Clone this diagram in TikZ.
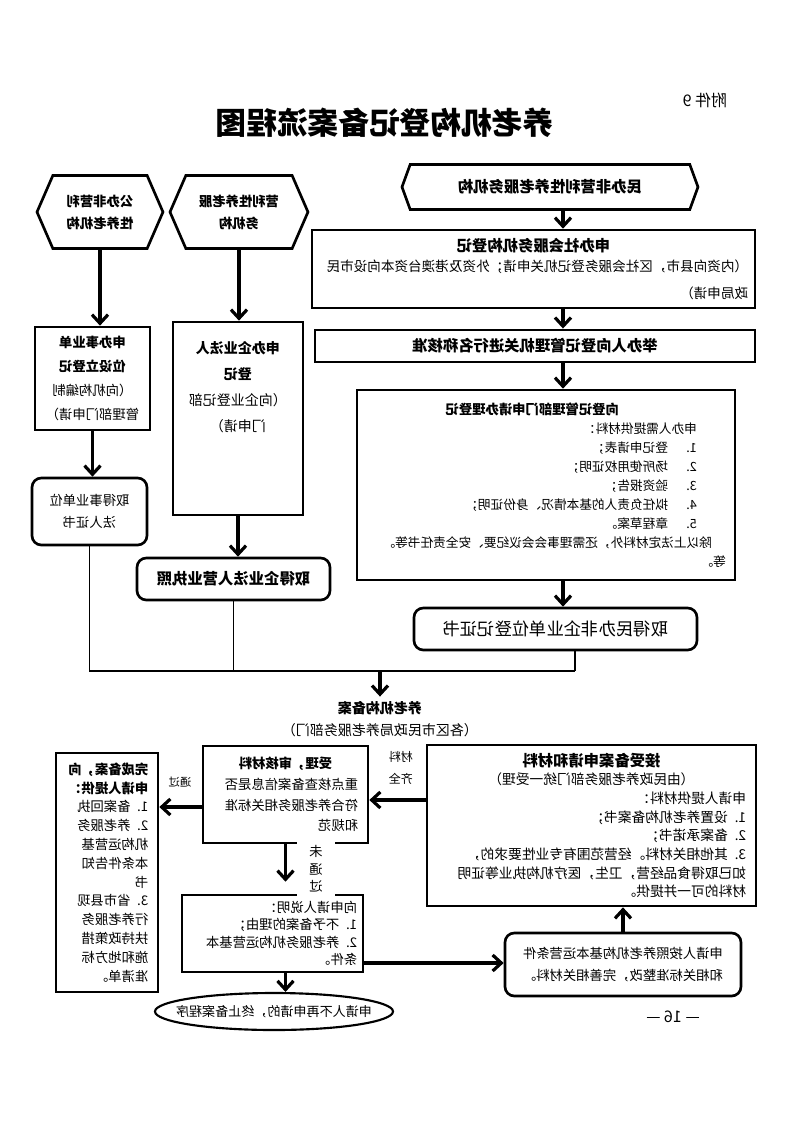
\documentclass[tikz,border=0pt]{standalone}
\usepackage{fontspec}
\setmainfont{Noto Sans CJK SC}
\usetikzlibrary{arrows.meta, shapes.geometric, shapes.symbols, positioning}

\newlength{\upx}
\setlength{\upx}{0.75pt}

\tikzset{
  box/.style={draw, line width=2pt, inner sep=3pt, align=center},
  rbox/.style={box, rounded corners=7pt},
  hexa/.style={box, signal, signal to=east and west},
  arr/.style={line width=2.4pt, -{Straight Barb[length=6.5pt,width=12pt]}},
  link/.style={line width=0.8pt},
  bar/.style={line width=2.2pt}
}

\begin{document}
\begin{tikzpicture}[x=0.75pt, y=-0.75pt, xscale=-1, every node/.style={transform shape}]

  \useasboundingbox (0,0) rectangle (793,1122);

  % title
  \node[font=\fontsize{23}{28}\selectfont\bfseries] (biaoti) at (408,123) {养老机构登记备案流程图};
  \node[font=\fontsize{12}{14}\selectfont] (fujian) at (88,100) {附件 9};

  % three kinds of institutions
  \node[hexa, minimum width=126\upx, minimum height=73\upx, signal pointer angle=133,
        font=\fontsize{10}{16.5}\selectfont\bfseries] (gongban) at (693,212) {公办非营利\\性养老机构};
  \node[hexa, minimum width=138\upx, minimum height=73\upx, signal pointer angle=133,
        font=\fontsize{10}{16.5}\selectfont\bfseries] (yingli) at (554,212) {营利性养老服\\务机构};
  \node[hexa, minimum width=296\upx, minimum height=45\upx, signal pointer angle=140,
        font=\fontsize{11.5}{14}\selectfont\bfseries] (minfei) at (243,187) {民办非营利性养老服务机构};

  % main column
  \node[box, minimum width=443\upx, minimum height=78\upx, text width=322pt, align=left,
        font=\fontsize{10.2}{20}\selectfont] (shefu) at (259.5,269)
       {\makebox[\linewidth]{\fontsize{11.5}{14}\selectfont\bfseries 申办社会服务机构登记}\\[-5pt]
        （内资向县市，区社会服务登记机关申请；外资及港澳台资本向设市民\\政局申请）};
  \node[box, line width=2.2pt, minimum width=440\upx, minimum height=32\upx,
        font=\fontsize{11.5}{14}\selectfont\bfseries] (hezhun) at (258,346) {举办人向登记管理机关进行名称核准};
  \node[box, minimum width=378\upx, minimum height=190\upx, text width=270pt, align=left,
        font=\fontsize{9.5}{14.3}\selectfont] (dengji) at (247,485)
       {\hspace*{107\upx}{\fontsize{10}{14}\selectfont\bfseries 向登记管理部门申请办理登记}\\
        \hspace*{29\upx}申办人需提供材料：\\
        \hspace*{29\upx}\makebox[29\upx][l]{1.}登记申请表；\\
        \hspace*{29\upx}\makebox[29\upx][l]{2.}场所使用权证明；\\
        \hspace*{29\upx}\makebox[29\upx][l]{3.}验资报告；\\
        \hspace*{29\upx}\makebox[29\upx][l]{4.}拟任负责人的基本情况、身份证明；\\
        \hspace*{29\upx}\makebox[29\upx][l]{5.}章程草案。\\
        \hspace*{14\upx}除以上法定材料外，还需理事会会议纪要、安全责任书等。\\
        等。};
  \node[rbox, minimum width=283\upx, minimum height=42\upx,
        font=\fontsize{13}{16}\selectfont] (minfeizheng) at (237.5,629) {取得民办非企业单位登记证书};

  % public institutions
  \node[box, minimum width=115\upx, minimum height=103\upx,
        font=\fontsize{10}{18}\selectfont] (shiye) at (700.5,378.5)
       {\textbf{申办事业单}\\\textbf{位设立登记}\\（向机构编制\\管理部门申请）};
  \node[rbox, minimum width=115\upx, minimum height=67\upx,
        font=\fontsize{10}{16}\selectfont] (shiyezheng) at (703.5,511.5) {取得事业单位\\法人证书};

  % for-profit institutions
  \node[box, minimum width=130\upx, minimum height=193\upx] (qiyebox) at (555,418.5) {};
  \node[anchor=north, align=center, font=\fontsize{10.5}{19.5}\selectfont] (qiyetxt) at (555,337)
       {\textbf{申办企业法人}\\\textbf{登记}\\（向企业登记部\\门申请）};
  \node[rbox, minimum width=193\upx, minimum height=42\upx,
        font=\fontsize{11.5}{14}\selectfont\bfseries] (qiyezhao) at (559.5,579) {取得企业法人营业执照};

  \node[align=center, font=\fontsize{10.5}{16.5}\selectfont] (beian) at (413,719)
       {\textbf{养老机构备案}\\（各区市民政局养老服务部门）};

  % filing part
  \node[box, minimum width=329\upx, minimum height=161\upx, text width=232pt, align=left,
        font=\fontsize{10.3}{14}\selectfont] (jieshou) at (201.5,825.5)
       {\makebox[\linewidth]{\fontsize{11.5}{14}\selectfont\bfseries 接受备案申请和材料}\\
        \makebox[\linewidth]{（由民政养老服务部门统一受理）}\\
        申请人提供材料：\\
        1. 设置养老机构备案书；\\
        2. 备案承诺书；\\
        3. 其他相关材料。经营范围有专业性要求的，\\
        如已取得食品经营，卫生，医疗机构执业等证明\\
        材料的可一并提供。};
  \node[box, minimum width=165\upx, minimum height=97\upx, text width=109pt, align=left,
        font=\fontsize{10}{15.4}\selectfont] (shouli) at (507.5,794.5)
       {\makebox[\linewidth]{\bfseries 受理，审核材料}\\
        重点核查备案信息是否\\符合养老服务相关标准\\和规范};
  \node[box, minimum width=102\upx, minimum height=239\upx, text width=62pt, align=left,
        font=\fontsize{10}{14.1}\selectfont] (wancheng) at (686,872.5)
       {\textbf{完成备案，向}\\\textbf{申请人提供：}\\
        1. 备案回执\\2. 养老服务\\机构运营基\\本条件告知\\书\\
        3. 省市县现\\行养老服务\\扶持政策措\\施和地方标\\准清单。};
  \node[box, minimum width=181\upx, minimum height=77\upx, text width=127pt, align=left,
        font=\fontsize{10}{13}\selectfont] (shuoming) at (520.5,933.5)
       {向申请人说明：\\1. 不予备案的理由；\\2. 养老服务机构运营基本\\条件。};
  \node[draw, ellipse, line width=1.6pt, minimum width=238\upx, minimum height=37\upx,
        label={[font=\fontsize{9.8}{12}\selectfont]center:申请人不再申请的，终止备案程序}] (zhongzhi) at (519,1011.5) {};
  \node[rbox, minimum width=236\upx, minimum height=63\upx, align=left,
        font=\fontsize{10}{16}\selectfont] (zhenggai) at (170,964.5)
       {申请人按照养老机构基本运营条件\\和相关标准整改，完善相关材料。};

  \node[font=\fontsize{12}{14}\selectfont] (yema) at (120,1017) {— 16 —};

  % arrows
  \coordinate (mid) at (230,0);
  \draw[arr] (gongban.south) -- (gongban.south |- shiye.north);
  \draw[arr] (yingli.south) -- (yingli.south |- qiyebox.north);
  \draw[arr] (minfei.south -| mid) -- (shefu.north -| mid);
  \draw[arr] (shefu.south -| mid) -- (hezhun.north -| mid);
  \draw[arr] (hezhun.south -| mid) -- (dengji.north -| mid);
  \draw[arr] (dengji.south -| mid) -- (minfeizheng.north -| mid);
  \draw[arr] (shiye.south) -- (shiye.south |- shiyezheng.north);
  \draw[arr] (qiyebox.south) -- (qiyebox.south |- qiyezhao.north);

  % gathering line
  \coordinate (huizong) at (705,671);
  \coordinate (huizongR) at (218,671);
  \draw[link] (shiyezheng.south) -- (shiyezheng.south |- huizong);
  \draw[link] (qiyezhao.south) -- (qiyezhao.south |- huizong);
  \draw[link] (minfeizheng.south -| huizongR) -- (huizongR);
  \draw[bar] (shiyezheng.south |- huizong) -- (huizongR);
  \draw[arr] (beian.north |- huizong) -- (beian.north);

  \draw[arr] (jieshou.east |- 0,800) -- (shouli.west |- 0,800);
  \node[font=\fontsize{9}{16.5}\selectfont, align=center] (cailiao) at (392,768) {材料\\齐全};
  \draw[arr] (shouli.east |- 0,807) -- (wancheng.west |- 0,807);
  \node[font=\fontsize{8.5}{10}\selectfont] (tongguo) at (613,782) {通过};
  \draw[arr, shorten >=12\upx] (shouli.south) -- (shouli.south |- shuoming.north);
  \node[fill=white, minimum width=38\upx, minimum height=60\upx, inner sep=1pt, align=center,
        font=\fontsize{10}{13}\selectfont] (weitongguo) at (477,869) {未\\通\\过};
  \draw[arr] (shuoming.south -| shouli.south) -- (zhongzhi.north -| shouli.south);
  \draw[arr] (shuoming.west |- 0,963) -- (zhenggai.east |- 0,963);
  \draw[arr] (zhenggai.north) -- (jieshou.south -| zhenggai.north);

\end{tikzpicture}
\end{document}
